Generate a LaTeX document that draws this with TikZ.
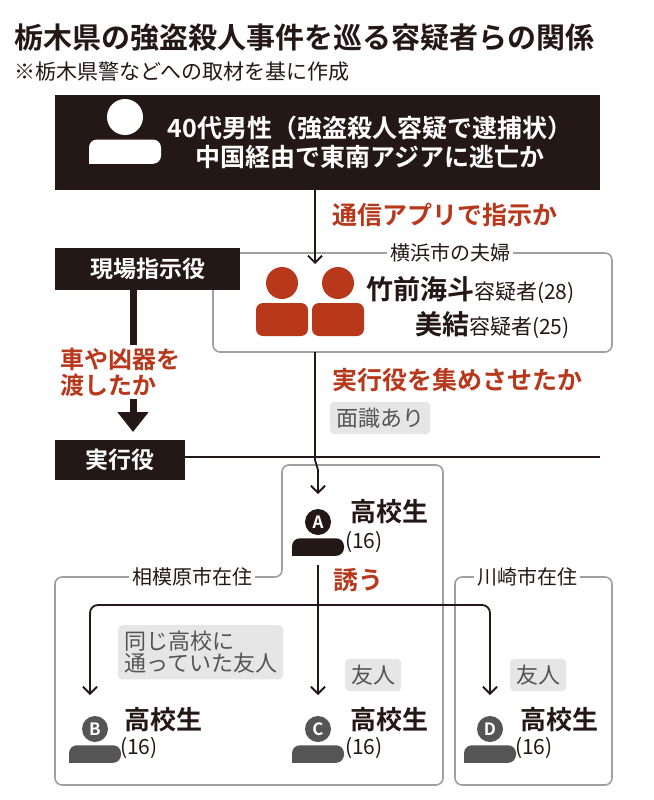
\documentclass[tikz,border=0pt]{standalone}
\usepackage{fontspec}
\setmainfont{Noto Sans CJK JP}
\newfontfamily\bfcjk{Noto Sans CJK JP Bold}
\usetikzlibrary{arrows.meta}
\definecolor{ink}{HTML}{231815}
\definecolor{redc}{HTML}{B8381C}
\definecolor{grayline}{HTML}{A0A0A0}
\definecolor{grayfill}{HTML}{E6E6E6}
\definecolor{iconGray}{HTML}{555555}
\newcommand\fs[1]{\fontsize{#1}{#1}\selectfont}
\tikzset{
 x=1pt,y=-1pt,
 blackbox/.style={fill=ink,text=white,inner sep=0,font=\bfcjk\fs{23}},
 redlab/.style={text=redc,font=\bfcjk\fs{25},anchor=west,inner sep=0},
 notebox/.style={fill=grayfill,rounded corners=4,text=iconGray,font=\fs{22},align=left,inner sep=6},
 region/.style={draw=grayline,line width=1.6,rounded corners=7},
 reglab/.style={fill=white,inner sep=3,font=\fs{20},text=ink},
 conn/.style={draw=ink,line width=1.8,-{Straight Barb[length=7,width=14,line width=1.8]}},
 pname/.style={font=\bfcjk\fs{26},anchor=west,inner sep=0,text=ink},
 page/.style={font=\fs{21},anchor=west,inner sep=0,text=ink},
}
\newcommand\person[5]{% x y color letter r
 \fill[#3] (#1,#2-#5) circle (#5);
 \node[text=white,font=\bfcjk\fs{17},inner sep=0] at (#1,#2-#5) {#4};
 \fill[#3,rounded corners=8] (#1-2*#5,#2+2*#5*0.8) -- (#1-2*#5,#2+#5*0.25) -- (#1+2*#5,#2+#5*0.25) -- (#1+2*#5,#2+2*#5*0.8) [sharp corners] -- cycle;}
\begin{document}
\begin{tikzpicture}
\useasboundingbox[fill=white] (0,0) rectangle (653,800);
% title
\node[anchor=west,inner sep=0,font=\bfcjk\fs{29},text=ink] (title) at (14,38) {栃木県の強盗殺人事件を巡る容疑者らの関係};
\node[anchor=west,inner sep=0,font=\fs{21},text=ink] (sub) at (14,72) {※栃木県警などへの取材を基に作成};
% top box
\node[blackbox,minimum width=545,minimum height=95,anchor=north west] (top) at (55,95) {};
\person{125}{135}{white}{}{18}
\node[text=white,font=\bfcjk\fs{25},align=center,inner sep=0] (toptext) at (370,142) {40代男性（強盗殺人容疑で逮捕状）\\[4pt]中国経由で東南アジアに逃亡か};
% couple region
\draw[region] (213,253) rectangle (612,352);
\node[reglab] (yoko) at (450,253) {横浜市の夫婦};
\fill[redc] (282,283) circle (16); \fill[redc,rounded corners=7] (256,336)--(256,303)--(308,303)--(308,336)--cycle;
\fill[redc] (338,283) circle (16); \fill[redc,rounded corners=7] (312,336)--(312,303)--(364,303)--(364,336)--cycle;
\node[pname,font=\bfcjk\fs{27}] (t1) at (366,290) {竹前海斗\fs{21}\normalfont 容疑者(28)};
\node[pname,font=\bfcjk\fs{27}] (t2) at (415,325) {美結\fs{21}\normalfont 容疑者(25)};
\coordinate (cTop) at (315,264);
\draw[conn] (315,190) -- (cTop);
\node[redlab] (l1) at (332,215) {通信アプリで指示か};
% role labels
\node[blackbox,minimum width=185,minimum height=42,anchor=north west] (shiji) at (55,248) {現場指示役};
\node[blackbox,minimum width=130,minimum height=40,anchor=north west] (jikko) at (55,440) {実行役};
\draw[ink,line width=1.6] (185,457) -- (600,457);
\draw[draw=ink,line width=7,-{Triangle[length=20,width=30]}] (133,290) -- (133,432);
\node[fill=white,text=redc,font=\bfcjk\fs{24},align=left,inner sep=3,anchor=west] (l2) at (57,372) {車や凶器を\\[2pt]渡したか};
% executor region
\draw[region] (55,785) -- (55,577) -- (282,577) -- (282,465) -- (443,465) -- (443,785) -- cycle;
\draw[region] (455,785) rectangle (612,577);
\node[reglab] (saga) at (192,577) {相模原市在住};
\node[reglab] (kawa) at (527,577) {川崎市在住};
\node[redlab] (l3) at (332,380) {実行役を集めさせたか};
\node[notebox,anchor=west] (menshiki) at (330,418) {面識あり};
% A
\coordinate (aTop) at (318,494);
\draw[conn] (315,352) -- (315,460) -- (318,470) -- (aTop);
\person{318}{535}{ink}{A}{13}
\node[pname] (a1) at (350,512) {高校生};
\node[page] (a2) at (345,542) {(16)};
\node[redlab] (l4) at (333,580) {誘う};
% branches
\coordinate (fork) at (318,605);
\coordinate (bT) at (90,695);
\coordinate (cT) at (318,695);
\coordinate (dT) at (490,695);
\draw[ink,line width=1.8] (318,565) -- (fork);
\draw[conn,rounded corners=8] (fork) -- (90,605) -- (bT);
\draw[conn] (fork) -- (cT);
\draw[conn,rounded corners=8] (fork) -- (490,605) -- (dT);
\node[notebox,anchor=north west] (n1) at (118,625) {同じ高校に\\通っていた友人};
\node[notebox,anchor=west] (n2) at (345,675) {友人};
\node[notebox,anchor=west] (n3) at (510,675) {友人};
\person{95}{742}{iconGray}{B}{13}
\node[pname] (b1) at (124,720) {高校生};
\node[page] (b2) at (120,748) {(16)};
\person{318}{742}{iconGray}{C}{13}
\node[pname] (c1) at (350,720) {高校生};
\node[page] (c2) at (345,748) {(16)};
\person{490}{742}{iconGray}{D}{13}
\node[pname] (d1) at (520,720) {高校生};
\node[page] (d2) at (515,748) {(16)};
\end{tikzpicture}
\end{document}
